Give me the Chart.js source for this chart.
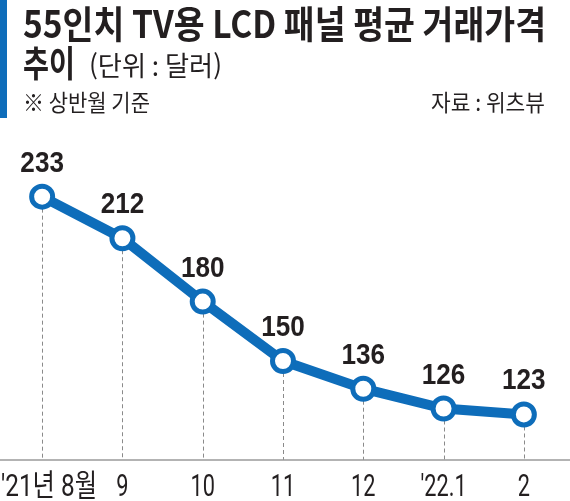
<!DOCTYPE html>
<html lang="ko">
<head>
<meta charset="utf-8">
<title>55인치 TV용 LCD 패널 평균 거래가격 추이</title>
<script src="https://cdn.jsdelivr.net/npm/chart.js@4.4.0/dist/chart.umd.min.js"></script>
<style>
  html, body { margin: 0; padding: 0; background: #fff; }
  #wrap { width: 570px; height: 501px; position: relative; }
</style>
</head>
<body>
<div id="wrap"><canvas id="lcdChart" width="570" height="501"></canvas></div>
<script>
// 데이터
const months = ["'21년 8월", "9", "10", "11", "12", "'22.1", "2"];
const prices = [233, 212, 180, 150, 136, 126, 123];

const BLUE = '#0e6dba';
const INK = '#231f20';
const KR = '"Noto Sans CJK KR", "Noto Sans", sans-serif';
const NUM = '"Liberation Sans", Arial, "Noto Sans CJK KR", sans-serif';
const TICK = 'Roboto, "Noto Sans CJK KR", sans-serif';

// 글자 폭 맞춰 그리기 (가로로 눌린 고딕 흉내)
function drawText(ctx, text, x, y, font, sx, align) {
  ctx.save();
  ctx.font = font;
  ctx.textBaseline = 'alphabetic';
  ctx.textAlign = 'left';
  const w = ctx.measureText(text).width * sx;
  let left = x;
  if (align === 'center') left = x - w / 2;
  if (align === 'right') left = x - w;
  ctx.translate(left, y);
  ctx.scale(sx, 1);
  ctx.fillText(text, 0, 0);
  ctx.restore();
  return w;
}

function fitText(ctx, text, x, y, font, width, align) {
  ctx.save();
  ctx.font = font;
  const sx = width / ctx.measureText(text).width;
  ctx.restore();
  return drawText(ctx, text, x, y, font, sx, align || 'left');
}

// 제목, 주석
const headerPlugin = {
  id: 'header',
  beforeDraw(chart) {
    const ctx = chart.ctx;
    ctx.save();
    ctx.fillStyle = BLUE;
    ctx.fillRect(0, 0, 7, 118);

    ctx.fillStyle = INK;
    fitText(ctx, '55인치 TV용 LCD 패널 평균 거래가격', 23, 38, 'bold 38px ' + KR, 523);
    fitText(ctx, '추이', 23, 77, 'bold 36px ' + KR, 52);
    fitText(ctx, '(단위 : 달러)', 89, 76, '27px ' + KR, 133);
    fitText(ctx, '※ 상반월 기준', 23, 111, '23px ' + KR, 127);
    fitText(ctx, '자료 : 위츠뷰', 545, 111, '23px ' + KR, 114, 'right');
    ctx.restore();
  }
};

// 점선, 축선, x축 라벨, 값 라벨
const guidePlugin = {
  id: 'guides',
  beforeDatasetsDraw(chart) {
    const ctx = chart.ctx;
    const x = chart.scales.x;
    const y = chart.scales.y;
    const bottom = chart.chartArea.bottom;
    ctx.save();
    ctx.strokeStyle = '#8a8a8a';
    ctx.lineWidth = 1;
    ctx.setLineDash([4, 3]);
    prices.forEach((v, i) => {
      const px = Math.round(x.getPixelForValue(i)) + 0.5;
      ctx.beginPath();
      ctx.moveTo(px, y.getPixelForValue(v) + 12);
      ctx.lineTo(px, bottom);
      ctx.stroke();
    });
    ctx.setLineDash([]);
    ctx.strokeStyle = '#9a9a9a';
    ctx.lineWidth = 1.5;
    ctx.beginPath();
    ctx.moveTo(0, bottom);
    ctx.lineTo(chart.width, bottom);
    ctx.stroke();

    ctx.fillStyle = INK;
    months.forEach((m, i) => {
      const px = x.getPixelForValue(i);
      if (i === 0) {
        fitText(ctx, m, 1, bottom + 36, '31px ' + TICK, 96);
      } else {
        drawText(ctx, m, px, bottom + 36, '32px ' + TICK, 0.68, 'center');
      }
    });
    ctx.restore();
  },
  afterDatasetsDraw(chart) {
    const ctx = chart.ctx;
    const meta = chart.getDatasetMeta(0);
    ctx.save();
    ctx.fillStyle = INK;
    meta.data.forEach((pt, i) => {
      drawText(ctx, String(prices[i]), pt.x, pt.y - 25, 'bold 29px ' + NUM, 0.9, 'center');
    });
    ctx.restore();
  }
};

new Chart(document.getElementById('lcdChart'), {
  type: 'line',
  data: {
    labels: months,
    datasets: [{
      data: prices,
      borderColor: BLUE,
      borderWidth: 10,
      pointRadius: 10.5,
      pointBorderWidth: 5,
      pointBackgroundColor: '#fff',
      pointBorderColor: BLUE,
      tension: 0,
      clip: false
    }]
  },
  options: {
    responsive: false,
    animation: false,
    layout: { autoPadding: false, padding: { top: 163, bottom: 41, left: 2, right: 6 } },
    plugins: {
      legend: { display: false },
      tooltip: { enabled: false }
    },
    scales: {
      x: {
        offset: true,
        display: false
      },
      y: {
        min: 100,
        max: 250,
        display: false
      }
    }
  },
  plugins: [headerPlugin, guidePlugin]
});
</script>
</body>
</html>
